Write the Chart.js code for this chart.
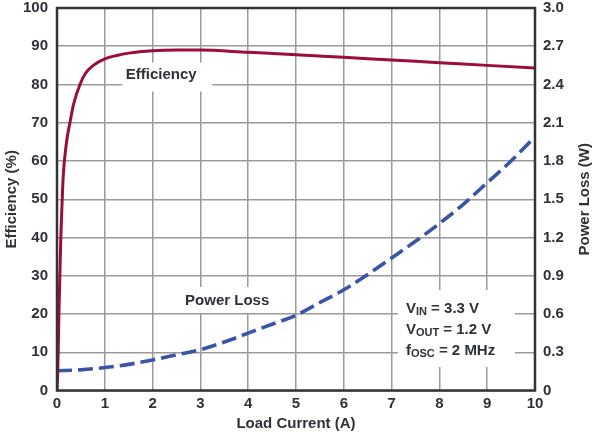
<!DOCTYPE html>
<html>
<head>
<meta charset="utf-8">
<script src="https://cdn.jsdelivr.net/npm/chart.js@4.4.0/dist/chart.umd.min.js"></script>
<style>
  html, body { margin: 0; padding: 0; background: #fff; }
  #wrap { width: 595px; height: 434px; }
</style>
</head>
<body>
<div id="wrap"><canvas id="grafico" width="595" height="434"></canvas></div>
<script>
// load current (A) and efficiency (%)
var effLoad = [0, 0.01, 0.025, 0.04, 0.06, 0.08, 0.1, 0.13, 0.2, 0.27, 0.35, 0.48, 0.6, 0.76, 1.0, 1.25, 1.5, 2.0, 2.5, 3, 4, 5, 6, 7, 8, 9, 10];
var effValues = [0, 3, 10, 20, 30, 40, 47, 56, 65, 70, 75, 80, 83, 85, 86.7, 87.6, 88.2, 88.8, 89.0, 89.0, 88.4, 87.8, 87.1, 86.4, 85.7, 85.0, 84.3];

// power loss (W)
var lossLoad = [0, 0.5, 1, 1.5, 2, 2.5, 3, 3.5, 4, 4.5, 5, 5.5, 6, 6.5, 7, 7.5, 8, 8.5, 9, 9.5, 10];
var lossValues = [0.155, 0.162, 0.18, 0.205, 0.24, 0.28, 0.32, 0.38, 0.45, 0.52, 0.59, 0.69, 0.79, 0.91, 1.04, 1.17, 1.31, 1.46, 1.63, 1.80, 1.99];

var txtColor = '#2e3138';
var fontFam = '"Liberation Sans", Arial, sans-serif';

function pares(xs, ys) {
    return xs.map(function (x, i) { return { x: x, y: ys[i] }; });
}

// white boxes behind labels (they cut the grid), the labels and the frame
var etiquetas = {
    id: 'etiquetas',
    beforeDatasetsDraw: function (chart) {
        var ctx = chart.ctx;
        var sx = chart.scales.x, sy = chart.scales.y;
        ctx.save();
        ctx.fillStyle = '#fff';
        // Efficiency label box
        var ex = sx.getPixelForValue(2.18), ey = sy.getPixelForValue(82.6);
        ctx.fillRect(ex - 39, ey - 12, 90, 29);
        // Power Loss label box
        var px = sx.getPixelForValue(3.56), py = sy.getPixelForValue(23.4);
        ctx.fillRect(px - 48, py - 14, 96, 26);
        // conditions box
        var ax = sx.getPixelForValue(7.3), ay = sy.getPixelForValue(21.3);
        ctx.fillRect(ax - 8, ay - 19, 117, 77);

        ctx.fillStyle = txtColor;
        ctx.font = 'bold 15px ' + fontFam;
        ctx.textBaseline = 'middle';
        ctx.textAlign = 'center';
        ctx.fillText('Efficiency', ex, ey);
        ctx.fillText('Power Loss', px, py);

        ctx.textAlign = 'left';
        var lineas = [
            ['V', 'IN', ' = 3.3 V', 21.3],
            ['V', 'OUT', ' = 1.2 V', 15.8],
            ['f', 'OSC', ' = 2 MHz', 10.3]
        ];
        lineas.forEach(function (l) {
            var x = ax, y = sy.getPixelForValue(l[3]);
            ctx.font = 'bold 15px ' + fontFam;
            ctx.fillText(l[0], x, y);
            x += ctx.measureText(l[0]).width;
            ctx.font = 'bold 11px ' + fontFam;
            ctx.fillText(l[1], x, y + 3);
            x += ctx.measureText(l[1]).width;
            ctx.font = 'bold 15px ' + fontFam;
            ctx.fillText(l[2], x, y);
        });
        ctx.restore();
    },
    afterDatasetsDraw: function (chart) {
        var ctx = chart.ctx, a = chart.chartArea;
        ctx.save();
        ctx.strokeStyle = '#333';
        ctx.lineWidth = 2.5;
        ctx.strokeRect(a.left, a.top, a.right - a.left, a.bottom - a.top);
        // right axis title, reading bottom to top
        ctx.translate(chart.width - 10, (a.top + a.bottom) / 2);
        ctx.rotate(-Math.PI / 2);
        ctx.fillStyle = txtColor;
        ctx.font = 'bold 15px ' + fontFam;
        ctx.textAlign = 'center';
        ctx.textBaseline = 'middle';
        ctx.fillText('Power Loss (W)', 0, 0);
        ctx.restore();
    }
};

function fijarY(ancho) {
    return function (s) { s.width = ancho; s.paddingTop = 0; s.paddingBottom = 0; };
}

var ctx = document.getElementById('grafico').getContext('2d');
var chart = new Chart(ctx, {
    type: 'line',
    data: {
        datasets: [{
            label: 'Efficiency',
            data: pares(effLoad, effValues),
            yAxisID: 'y',
            borderColor: '#9b0d3a',
            borderWidth: 3,
            pointRadius: 0,
            fill: false,
            cubicInterpolationMode: 'monotone'
        }, {
            label: 'Power Loss',
            data: pares(lossLoad, lossValues),
            yAxisID: 'y1',
            borderColor: '#3a55a8',
            borderWidth: 3.6,
            borderDash: [15, 6],
            pointRadius: 0,
            fill: false,
            cubicInterpolationMode: 'monotone'
        }]
    },
    options: {
        responsive: false,
        animation: false,
        layout: { padding: { top: 8, left: 0, right: 0, bottom: 0 } },
        plugins: {
            legend: { display: false },
            tooltip: { enabled: false }
        },
        scales: {
            x: {
                type: 'linear',
                min: 0,
                max: 10,
                ticks: {
                    stepSize: 1,
                    color: txtColor,
                    padding: 4,
                    font: { family: fontFam, size: 15, weight: 'bold' }
                },
                grid: { color: '#9a9a9a', lineWidth: 1.5, drawTicks: false },
                border: { display: false },
                title: {
                    display: true,
                    text: 'Load Current (A)',
                    color: txtColor,
                    padding: { top: 0, bottom: 1 },
                    font: { family: fontFam, size: 15, weight: 'bold' }
                },
                afterFit: function (s) { s.height = 43.5; s.paddingLeft = 0; s.paddingRight = 0; }
            },
            y: {
                position: 'left',
                min: 0,
                max: 100,
                ticks: {
                    stepSize: 10,
                    color: txtColor,
                    padding: 9,
                    font: { family: fontFam, size: 15, weight: 'bold' }
                },
                grid: { color: '#9a9a9a', lineWidth: 1.5, drawTicks: false },
                border: { display: false },
                title: {
                    display: true,
                    text: 'Efficiency (%)',
                    color: txtColor,
                    padding: { top: 3, bottom: 0 },
                    font: { family: fontFam, size: 15, weight: 'bold' }
                },
                afterFit: fijarY(57)
            },
            y1: {
                position: 'right',
                min: 0,
                max: 3,
                ticks: {
                    stepSize: 0.3,
                    color: txtColor,
                    padding: 8,
                    font: { family: fontFam, size: 15, weight: 'bold' },
                    callback: function (v) { return v === 0 ? '0' : v.toFixed(1); }
                },
                grid: { display: false, drawTicks: false },
                border: { display: false },
                afterFit: fijarY(60)
            }
        }
    },
    plugins: [etiquetas]
});
</script>
</body>
</html>
